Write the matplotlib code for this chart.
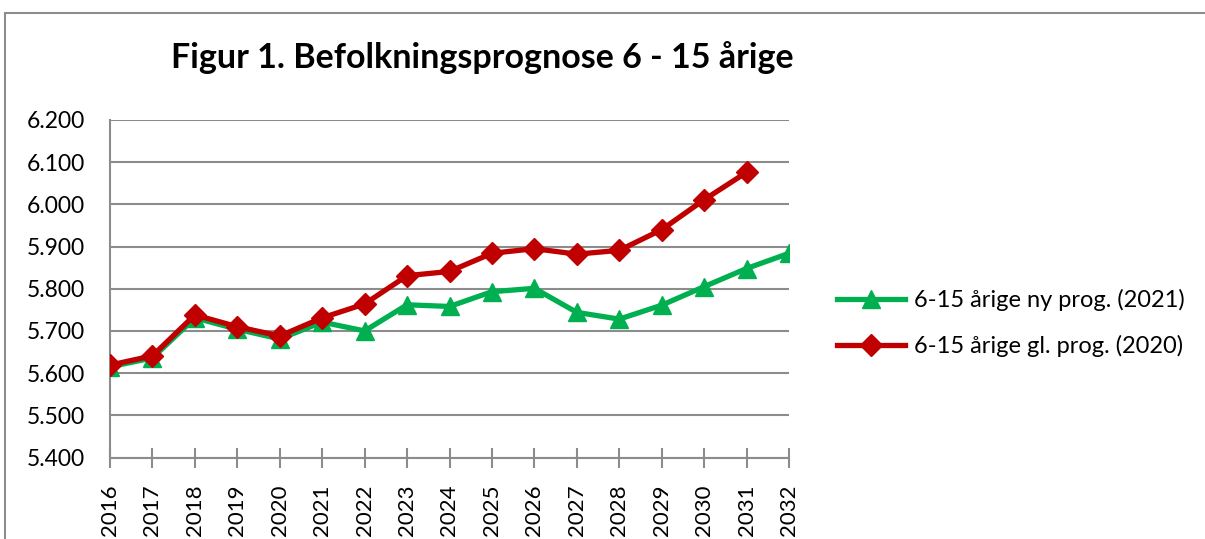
import matplotlib
matplotlib.use("Agg")
import matplotlib.pyplot as plt
from matplotlib.patches import Rectangle
from matplotlib.ticker import FuncFormatter, MultipleLocator

years = [str(y) for y in range(2016, 2033)]
ny_prog_2021 = [5615, 5636, 5731, 5704, 5681, 5721, 5700, 5762, 5758,
                5793, 5801, 5744, 5728, 5761, 5805, 5848, 5884]
gl_prog_2020 = [5619, 5641, 5738, 5710, 5688, 5731, 5764, 5831, 5841,
                5884, 5895, 5882, 5891, 5940, 6011, 6076]
labels = ["6-15 årige ny prog. (2021)", "6-15 årige gl. prog. (2020)"]
title = "Figur 1. Befolkningsprognose 6 - 15 årige"

plt.rcParams['font.family'] = ['Lato', 'DejaVu Sans']

W, H = 1205, 539
fig = plt.figure(figsize=(W / 100, H / 100), dpi=100)
fig.patches.append(Rectangle((5 / W, -0.1), 1.2, 1 - 13 / H + 0.1,
                             transform=fig.transFigure, fill=False,
                             edgecolor='#8c8c8c', linewidth=1.5))

ax = fig.add_axes([110 / W, 1 - 457.5 / H, (789 - 110) / W, (457.5 - 120) / H])
x = list(range(len(years)))
green = '#00B050'
red = '#C00000'
ax.plot(x[:len(ny_prog_2021)], ny_prog_2021, color=green, lw=3.8, marker='^',
        ms=13, label=labels[0], zorder=3)
ax.plot(x[:len(gl_prog_2020)], gl_prog_2020, color=red, lw=3.8, marker='D',
        ms=11, label=labels[1], zorder=4)

ax.set_ylim(5400, 6200)
ax.set_xlim(0, len(years) - 1)
ax.yaxis.set_major_locator(MultipleLocator(100))
ax.yaxis.set_major_formatter(FuncFormatter(lambda v, p: f"{v/1000:.3f}"))
ax.set_xticks(x)
ax.set_xticklabels(years, rotation=90, fontsize=16)
ax.tick_params(axis='y', length=0, labelsize=16.5, pad=18, colors='black')
ax.tick_params(axis='x', direction='inout', length=15, width=1.5,
               color='#8c8c8c', pad=12)
ax.grid(axis='y', color='#8c8c8c', lw=1.5)
ax.set_axisbelow(True)
for s in ['top', 'right']:
    ax.spines[s].set_visible(False)
for s in ['left', 'bottom']:
    ax.spines[s].set_color('#8c8c8c')
    ax.spines[s].set_linewidth(1.5)

fig.text(482 / W, 1 - 58 / H, title, ha='center', va='center',
         fontsize=24.5, fontweight='bold')

leg = ax.legend(loc='center left', bbox_to_anchor=(837 / W, 1 - 323 / H),
                bbox_transform=fig.transFigure, frameon=False, fontsize=17,
                handlelength=2.9, handletextpad=0.35, labelspacing=1.0,
                borderaxespad=0, borderpad=0)

fig.savefig("out.png", dpi=100)
